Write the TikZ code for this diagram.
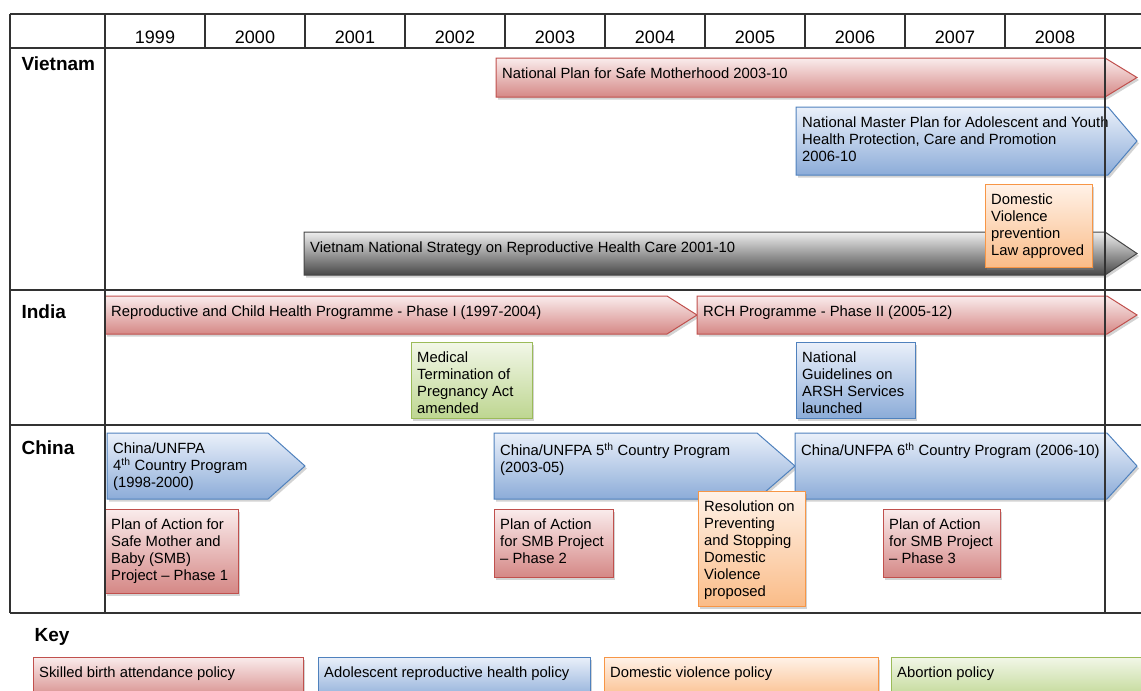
\documentclass[tikz,border=0pt]{standalone}
\usepackage{fontspec}
\setmainfont{Liberation Sans}
\usetikzlibrary{shadows}

\definecolor{gridline}{RGB}{50,50,50}
\definecolor{redline}{RGB}{192,80,77}
\definecolor{redtop}{RGB}{250,236,236}
\definecolor{redbot}{RGB}{213,136,134}
\definecolor{blueline}{RGB}{79,129,189}
\definecolor{bluetop}{RGB}{234,240,250}
\definecolor{bluebot}{RGB}{140,172,216}
\definecolor{orangeline}{RGB}{247,150,70}
\definecolor{orangetop}{RGB}{255,242,232}
\definecolor{orangebot}{RGB}{250,188,136}
\definecolor{greenline}{RGB}{155,187,89}
\definecolor{greentop}{RGB}{242,247,232}
\definecolor{greenbot}{RGB}{190,214,145}
\definecolor{grayline}{RGB}{70,70,70}
\definecolor{graytop}{RGB}{238,238,238}
\definecolor{graybot}{RGB}{72,72,72}

\tikzset{
  pol/.style={line width=1pt, drop shadow={shadow xshift=2pt, shadow yshift=-2.5pt, opacity=0.35}},
  redpol/.style={pol, draw=redline, top color=redtop, bottom color=redbot},
  bluepol/.style={pol, draw=blueline, top color=bluetop, bottom color=bluebot},
  orangepol/.style={pol, draw=orangeline, top color=orangetop, bottom color=orangebot},
  greenpol/.style={pol, draw=greenline, top color=greentop, bottom color=greenbot},
  graypol/.style={pol, draw=grayline, top color=graytop, bottom color=graybot},
  txt/.style={font=\fontsize{14.8}{17}\selectfont, align=left, inner sep=0pt, anchor=north west, xshift=6pt, yshift=-9.5pt},
  year/.style={font=\fontsize{18}{20}\selectfont},
  country/.style={font=\bfseries\fontsize{19}{21}\selectfont, anchor=west},
  grid/.style={line width=1.2pt, draw=gridline},
}

% style, left, slant, tip, top, bottom, name
\newcommand{\parrow}[7]{%
  \path[#1] (#2,#5) -- (#3,#5) -- ({#4},{(#5+#6)/2}) -- (#3,#6) -- (#2,#6) -- cycle;
  \coordinate (#7) at (#2,#5);}
% style, left, top, right, bottom, name
\newcommand{\pbox}[6]{%
  \path[#1] (#2,#3) rectangle (#4,#5);
  \coordinate (#6) at (#2,#3);}

\begin{document}
\begin{tikzpicture}[x=1pt, y=-1pt]
  \useasboundingbox (0,0) rectangle (1141,691);
  \clip (0,0) rectangle (1141,691);

  \parrow{redpol}{496}{1105}{1137}{58}{97}{anplan}
  \node[txt] (nplan) at (anplan) {National Plan for Safe Motherhood 2003-10};
  \parrow{bluepol}{796}{1108}{1137}{107}{175}{anmaster}
  \node[txt] (nmaster) at (anmaster) {National Master Plan for Adolescent and Youth\\Health Protection, Care and Promotion\\2006-10};
  \parrow{graypol}{304}{1105}{1137}{232}{275}{anstrat}
  \node[txt] (nstrat) at (anstrat) {Vietnam National Strategy on Reproductive Health Care 2001-10};
  \pbox{orangepol}{985}{184}{1092}{267}{advlaw}
  \node[txt] (dvlaw) at (advlaw) {Domestic\\Violence\\prevention\\Law approved};

  \parrow{redpol}{105}{667}{697}{296}{334}{arch1}
  \node[txt] (rch1) at (arch1) {Reproductive and Child Health Programme - Phase I (1997-2004)};
  \parrow{redpol}{697}{1107}{1137}{296}{334}{arch2}
  \node[txt] (rch2) at (arch2) {RCH Programme - Phase II (2005-12)};
  \pbox{greenpol}{411}{342}{532}{418}{amtp}
  \node[txt] (mtp) at (amtp) {Medical\\Termination of\\Pregnancy Act\\amended};
  \pbox{bluepol}{796}{342}{915}{418}{aarsh}
  \node[txt] (arsh) at (aarsh) {National\\Guidelines on\\ARSH Services\\launched};

  \parrow{bluepol}{107}{268}{305}{433}{499}{acp4}
  \node[txt] (cp4) at (acp4) {China/UNFPA\\4\textsuperscript{th} Country Program\\(1998-2000)};
  \parrow{bluepol}{494}{757}{795}{433}{499}{acp5}
  \node[txt] (cp5) at (acp5) {China/UNFPA 5\textsuperscript{th} Country Program\\(2003-05)};
  \parrow{bluepol}{795}{1107}{1137}{433}{499}{acp6}
  \node[txt] (cp6) at (acp6) {China/UNFPA 6\textsuperscript{th} Country Program (2006-10)};
  \pbox{redpol}{105}{509}{238}{593}{asmb1}
  \node[txt] (smb1) at (asmb1) {Plan of Action for\\Safe Mother and\\Baby (SMB)\\Project – Phase 1};
  \pbox{redpol}{494}{509}{613}{577}{asmb2}
  \node[txt] (smb2) at (asmb2) {Plan of Action\\for SMB Project\\– Phase 2};
  \pbox{orangepol}{698}{491}{805}{606}{advres}
  \node[txt] (dvres) at (advres) {Resolution on\\Preventing\\and Stopping\\Domestic\\Violence\\proposed};
  \pbox{redpol}{883}{509}{1000}{577}{asmb3}
  \node[txt] (smb3) at (asmb3) {Plan of Action\\for SMB Project\\– Phase 3};

  \draw[grid] (10,14) -- (1141,14);
  \foreach \y in {48,290,425,613}
    \draw[grid] (10,\y) -- (1141,\y);
  \draw[grid] (10,14) -- (10,613);
  \draw[grid] (105,14) -- (105,613);
  \draw[grid] (1105,14) -- (1105,613);
  \foreach \x in {205,305,...,1005}
    \draw[grid] (\x,14) -- (\x,48);
  \foreach \yr [count=\i from 0] in {1999,...,2008}
    \node[year] (y\yr) at ({155+100*\i},37) {\yr};

  \node[country] (vietnam) at (18,64) {Vietnam};
  \node[country] (india) at (18,312) {India};
  \node[country] (china) at (18,448) {China};

  \node[country] (key) at (31,637) {Key};
  \pbox{redpol}{33}{657}{303}{700}{akred}
  \node[txt] (kred) at (akred) {Skilled birth attendance policy};
  \pbox{bluepol}{318}{657}{590}{700}{akblue}
  \node[txt] (kblue) at (akblue) {Adolescent reproductive health policy};
  \pbox{orangepol}{604}{657}{878}{700}{akorange}
  \node[txt] (korange) at (akorange) {Domestic violence policy};
  \pbox{greenpol}{891}{657}{1160}{700}{akgreen}
  \node[txt] (kgreen) at (akgreen) {Abortion policy};
\end{tikzpicture}
\end{document}
